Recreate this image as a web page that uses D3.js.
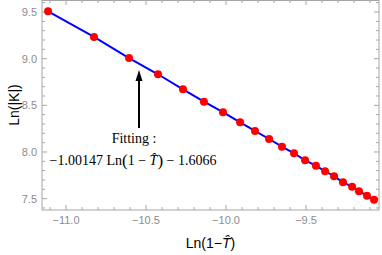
<!DOCTYPE html>
<html>
<head>
<meta charset="utf-8">
<script src="https://cdn.jsdelivr.net/npm/d3@7"></script>
<style>
  body { margin: 0; background: #fff; }
  svg { display: block; }
</style>
</head>
<body>
<svg id="chart"></svg>
<script>
var width = 382,
    height = 255;

// values
var lnT = [-11.112, -10.825, -10.606, -10.425, -10.269, -10.138, -10.019, -9.912, -9.819, -9.731,
           -9.650, -9.575, -9.506, -9.438, -9.381, -9.325, -9.269, -9.212, -9.169, -9.119, -9.075];
var lnK = [9.508, 9.233, 9.007, 8.833, 8.672, 8.539, 8.426, 8.318, 8.225, 8.139,
           8.057, 7.986, 7.911, 7.853, 7.793, 7.740, 7.675, 7.628, 7.579, 7.532, 7.489];
var xTicks = [-11.0, -10.5, -10.0, -9.5];
var yTicks = [7.5, 8.0, 8.5, 9.0, 9.5];

var data = lnT.map(function(d, i) { return [d, lnK[i]]; });

var pLeft = 42, pRight = 379, pTop = 0, pBottom = 210;

var x = d3.scaleLinear().domain([-11.15, -9.044]).range([pLeft, pRight]);
var y = d3.scaleLinear().domain([7.378, 9.629]).range([pBottom, pTop]);

var svg = d3.select("#chart")
    .attr("width", width)
    .attr("height", height);

var frameColor = "#a6a6a6";

// minor ticks every 0.1
var xMinor = d3.range(-111, -90).map(function(d) { return d / 10; })
    .filter(function(d) { return x(d) > pLeft && x(d) < pRight; });
var yMinor = d3.range(74, 97).map(function(d) { return d / 10; })
    .filter(function(d) { return y(d) < pBottom && y(d) > pTop; });

function isMajor(v) { return Math.abs(v * 2 - Math.round(v * 2)) < 1e-6; }

var g = svg.append("g");

// inward ticks on all four sides
g.selectAll(".xt").data(xMinor).enter().append("line")
    .attr("x1", function(d) { return x(d); })
    .attr("x2", function(d) { return x(d); })
    .attr("y1", pBottom)
    .attr("y2", function(d) { return pBottom - (isMajor(d) ? 5 : 3); })
    .attr("stroke", frameColor);
g.selectAll(".xtt").data(xMinor).enter().append("line")
    .attr("x1", function(d) { return x(d); })
    .attr("x2", function(d) { return x(d); })
    .attr("y1", pTop)
    .attr("y2", function(d) { return pTop + (isMajor(d) ? 5 : 3); })
    .attr("stroke", frameColor);
g.selectAll(".yt").data(yMinor).enter().append("line")
    .attr("y1", function(d) { return y(d); })
    .attr("y2", function(d) { return y(d); })
    .attr("x1", pLeft)
    .attr("x2", function(d) { return pLeft + (isMajor(d) ? 5 : 3); })
    .attr("stroke", frameColor);
g.selectAll(".ytr").data(yMinor).enter().append("line")
    .attr("y1", function(d) { return y(d); })
    .attr("y2", function(d) { return y(d); })
    .attr("x1", pRight)
    .attr("x2", function(d) { return pRight - (isMajor(d) ? 5 : 3); })
    .attr("stroke", frameColor);

g.append("rect")
    .attr("x", pLeft).attr("y", pTop + 0.5)
    .attr("width", pRight - pLeft).attr("height", pBottom - pTop - 0.5)
    .attr("fill", "none")
    .attr("stroke", frameColor);

// tick labels
g.selectAll(".xl").data(xTicks).enter().append("text")
    .attr("x", function(d) { return x(d); })
    .attr("y", 224)
    .attr("text-anchor", "middle")
    .attr("font-family", "Liberation Sans, Arial, sans-serif")
    .attr("font-size", 11)
    .attr("fill", "#8c8c8c")
    .text(function(d) { return "\u2212" + Math.abs(d).toFixed(1); });

g.selectAll(".yl").data(yTicks).enter().append("text")
    .attr("x", 37)
    .attr("y", function(d) { return y(d) + 4; })
    .attr("text-anchor", "end")
    .attr("font-family", "Liberation Sans, Arial, sans-serif")
    .attr("font-size", 11)
    .attr("fill", "#8c8c8c")
    .text(function(d) { return d.toFixed(1); });

// axis labels
svg.append("text")
    .attr("transform", "translate(19," + ((pTop + pBottom) / 2) + ") rotate(-90)")
    .attr("text-anchor", "middle")
    .attr("font-family", "Liberation Sans, Arial, sans-serif")
    .attr("font-size", 14)
    .text("Ln(|K|)");

var xl = svg.append("text")
    .attr("x", (pLeft + pRight) / 2)
    .attr("y", 248)
    .attr("text-anchor", "middle")
    .attr("font-family", "Liberation Sans, Arial, sans-serif")
    .attr("font-size", 14);
xl.append("tspan").text("Ln(1\u2212");
xl.append("tspan").attr("font-style", "italic").text("T\u0302");
xl.append("tspan").text(")");

// fit line + points
var line = d3.line()
    .x(function(d) { return x(d[0]); })
    .y(function(d) { return y(d[1]); });

svg.append("path")
    .datum(data)
    .attr("d", line)
    .attr("fill", "none")
    .attr("stroke", "#0000ff")
    .attr("stroke-width", 2);

svg.selectAll(".pt").data(data).enter().append("circle")
    .attr("cx", function(d) { return x(d[0]); })
    .attr("cy", function(d) { return y(d[1]); })
    .attr("r", 4)
    .attr("fill", "#ff0000");

// annotation arrow
var ax = 139;
svg.append("line")
    .attr("x1", ax).attr("x2", ax)
    .attr("y1", 128).attr("y2", 78)
    .attr("stroke", "#000")
    .attr("stroke-width", 2);
svg.append("path")
    .attr("d", "M" + ax + ",70 L" + (ax - 3.5) + ",81 L" + (ax + 3.5) + ",81 Z")
    .attr("fill", "#000");

svg.append("text")
    .attr("x", 134)
    .attr("y", 143)
    .attr("text-anchor", "middle")
    .attr("font-family", "Liberation Serif, Times New Roman, serif")
    .attr("font-size", 14)
    .text("Fitting :");

var ft = svg.append("text")
    .attr("x", 133)
    .attr("y", 165)
    .attr("text-anchor", "middle")
    .attr("font-family", "Liberation Serif, Times New Roman, serif")
    .attr("font-size", 14);
ft.append("tspan").text("\u22121.00147 Ln");
ft.append("tspan").attr("font-size", 17).attr("dy", 1).text("(");
ft.append("tspan").attr("dy", -1).text("1 \u2212 ");
ft.append("tspan").attr("font-style", "italic").text("T\u0302");
ft.append("tspan").attr("font-size", 17).attr("dy", 1).text(")");
ft.append("tspan").attr("dy", -1).text(" \u2212 1.6066");
</script>
</body>
</html>
